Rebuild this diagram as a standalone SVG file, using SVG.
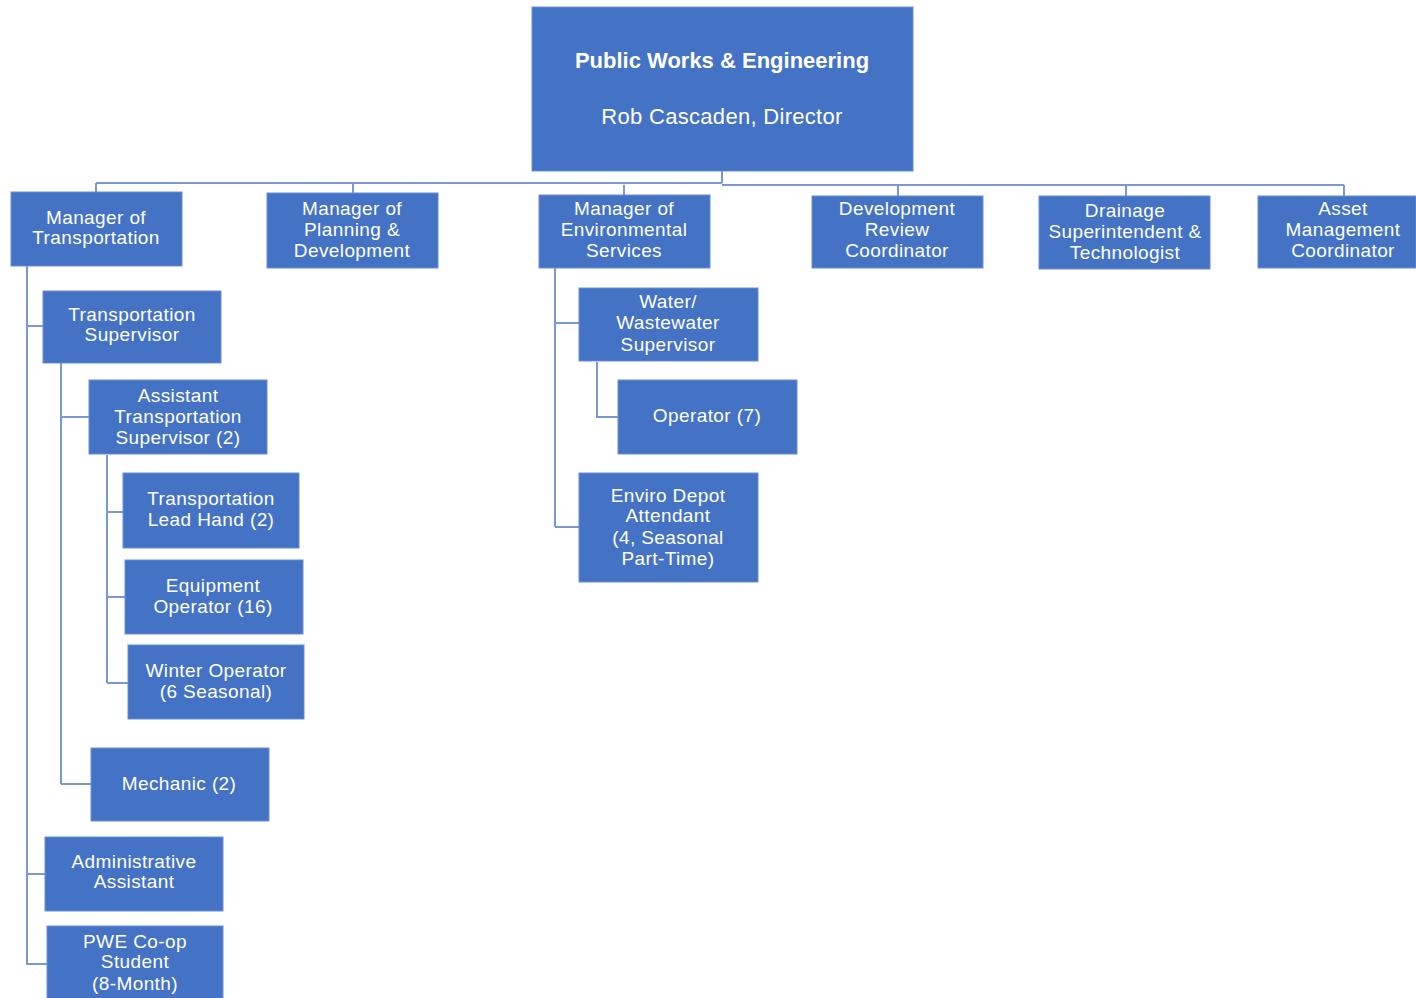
<svg xmlns="http://www.w3.org/2000/svg" width="1416" height="998" viewBox="0 0 1416 998">
<style>
.b{fill:#4472C4;stroke:#6A8FD3;stroke-width:1}
.t{fill:#fff;font-family:"Liberation Sans",Arial,sans-serif;font-size:19px;letter-spacing:0.4px;text-anchor:middle}
.h{fill:#fff;font-family:"Liberation Sans",Arial,sans-serif;font-size:22px;text-anchor:middle}
.c{fill:none;stroke:#7A98D2;stroke-width:2}
</style>
<rect width="1416" height="998" fill="#fff"/>
<g id="connectors">
<path class="c" d="M722 171V183M96 183H722M722 185H1344M96 183V192M353 183V194M624 185V196M898 185V196M1126 185V196M1344 185V196"/>
<path class="c" d="M27 266V965M27 326H43M27 874H45M27 964H47"/>
<path class="c" d="M61 363V784M61 417H89M61 784H91"/>
<path class="c" d="M107 455V683M107 512H123M107 597H125M107 683H128"/>
<path class="c" d="M555 268V527M555 323H579M555 527H579"/>
<path class="c" d="M597 362V417H618"/>
</g>
<g id="director"><rect class="b" x="532" y="7" width="381" height="164"/>
<text class="h" x="722" y="68" font-weight="bold">Public Works &amp; Engineering</text>
<text class="h" x="722" y="124" letter-spacing="0.3">Rob Cascaden, Director</text></g>
<g id="mgr-transport"><rect class="b" x="11" y="192" width="171" height="74"/>
<text class="t" x="96" y="224">Manager of</text><text class="t" x="96" y="244">Transportation</text></g>
<g id="mgr-planning"><rect class="b" x="267" y="193" width="171" height="75"/>
<text class="t" x="352" y="215">Manager of</text><text class="t" x="352" y="236">Planning &amp;</text><text class="t" x="352" y="257">Development</text></g>
<g id="mgr-env"><rect class="b" x="539" y="195" width="171" height="73"/>
<text class="t" x="624" y="215">Manager of</text><text class="t" x="624" y="236">Environmental</text><text class="t" x="624" y="257">Services</text></g>
<g id="dev-review"><rect class="b" x="812" y="196" width="171" height="72"/>
<text class="t" x="897" y="215">Development</text><text class="t" x="897" y="236">Review</text><text class="t" x="897" y="257">Coordinator</text></g>
<g id="drainage"><rect class="b" x="1039" y="196" width="171" height="73"/>
<text class="t" x="1125" y="217">Drainage</text><text class="t" x="1125" y="238">Superintendent &amp;</text><text class="t" x="1125" y="259">Technologist</text></g>
<g id="asset"><rect class="b" x="1258" y="196" width="158" height="72"/>
<text class="t" x="1343" y="215">Asset</text><text class="t" x="1343" y="236">Management</text><text class="t" x="1343" y="257">Coordinator</text></g>
<g id="trans-sup"><rect class="b" x="43" y="291" width="178" height="72"/>
<text class="t" x="132" y="321">Transportation</text><text class="t" x="132" y="341">Supervisor</text></g>
<g id="asst-trans-sup"><rect class="b" x="89" y="380" width="178" height="74"/>
<text class="t" x="178" y="402">Assistant</text><text class="t" x="178" y="423">Transportation</text><text class="t" x="178" y="444">Supervisor (2)</text></g>
<g id="lead-hand"><rect class="b" x="123" y="473" width="176" height="75"/>
<text class="t" x="211" y="505">Transportation</text><text class="t" x="211" y="526">Lead Hand (2)</text></g>
<g id="equip-op"><rect class="b" x="125" y="560" width="178" height="74"/>
<text class="t" x="213" y="592">Equipment</text><text class="t" x="213" y="613">Operator (16)</text></g>
<g id="winter-op"><rect class="b" x="128" y="645" width="176" height="74"/>
<text class="t" x="216" y="677">Winter Operator</text><text class="t" x="216" y="698">(6 Seasonal)</text></g>
<g id="mechanic"><rect class="b" x="91" y="748" width="178" height="73"/>
<text class="t" x="179" y="790">Mechanic (2)</text></g>
<g id="admin"><rect class="b" x="45" y="837" width="178" height="74"/>
<text class="t" x="134" y="868">Administrative</text><text class="t" x="134" y="888">Assistant</text></g>
<g id="coop"><rect class="b" x="47" y="926" width="176" height="76"/>
<text class="t" x="135" y="948">PWE Co-op</text><text class="t" x="135" y="968">Student</text><text class="t" x="135" y="990">(8-Month)</text></g>
<g id="water-sup"><rect class="b" x="579" y="288" width="179" height="73"/>
<text class="t" x="668" y="308">Water/</text><text class="t" x="668" y="329">Wastewater</text><text class="t" x="668" y="351">Supervisor</text></g>
<g id="operator"><rect class="b" x="618" y="380" width="179" height="74"/>
<text class="t" x="707" y="422">Operator (7)</text></g>
<g id="enviro-depot"><rect class="b" x="579" y="473" width="179" height="109"/>
<text class="t" x="668" y="502">Enviro Depot</text><text class="t" x="668" y="522">Attendant</text><text class="t" x="668" y="544">(4, Seasonal</text><text class="t" x="668" y="565">Part-Time)</text></g>
</svg>
